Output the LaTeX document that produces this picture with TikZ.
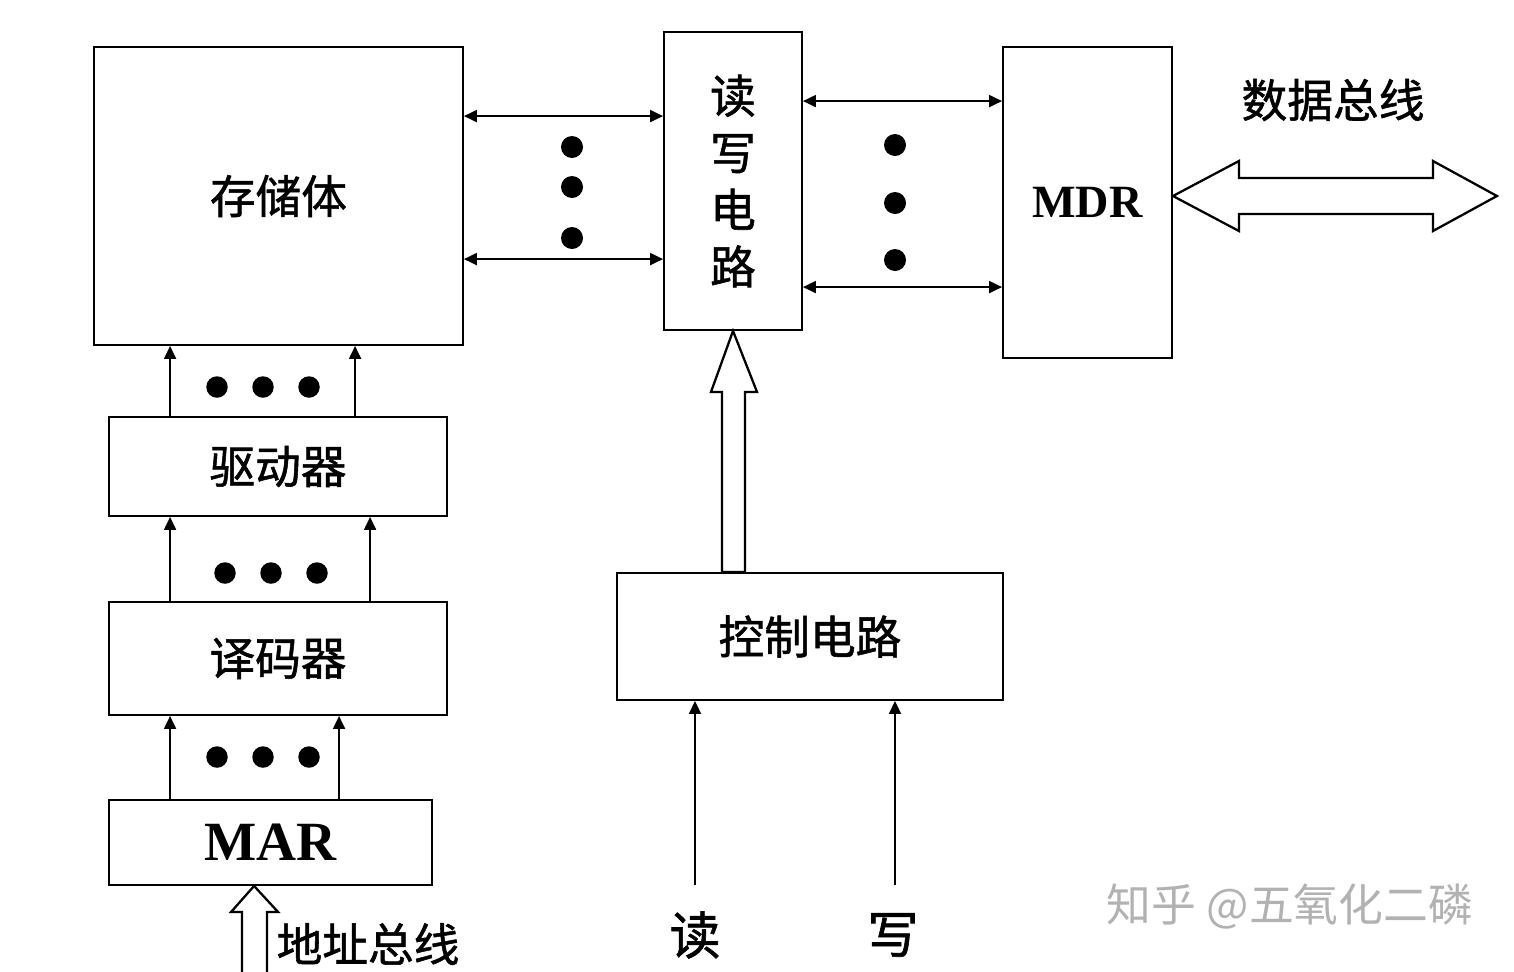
\documentclass[tikz,border=0pt]{standalone}
\usepackage{fontspec}
\setmainfont{Liberation Serif}
\newfontfamily\cjk{Noto Sans CJK SC}
\newfontfamily\cjkb[FakeBold=1.2]{Noto Sans CJK SC}
\usetikzlibrary{arrows.meta,calc}
\begin{document}
\begin{tikzpicture}[x=0.02cm,y=-0.02cm,
  box/.style={draw, line width=1.1pt, inner sep=0pt},
  lbl/.style={font=\cjkb\fontsize{26}{32.4}\selectfont},
  big/.style={font=\cjkb\fontsize{29}{34}\selectfont},
  latin/.style={font=\bfseries\fontsize{26.3}{30}\selectfont},
  arr/.style={line width=1.1pt, -{Triangle[length=0.26cm,width=0.24cm]}},
  dbl/.style={line width=1.1pt, {Triangle[length=0.26cm,width=0.24cm]}-{Triangle[length=0.26cm,width=0.24cm]}},
  hollow/.style={draw, line width=1.3pt, fill=white, line join=miter},
  dot/.style={fill=black}
]
\useasboundingbox (0,0) rectangle (1514,971);

% boxes
\node[box, lbl, minimum width=7.38cm, minimum height=5.96cm] (mem) at (278.5,196) {存储体};
\node[box, lbl, align=center, minimum width=2.76cm, minimum height=5.96cm] (rw) at (733,181) {读\\写\\电\\路};
\node[box, latin, minimum width=3.38cm, minimum height=6.22cm] (mdr) at (1087.5,202.5) {MDR};
\node[box, lbl, minimum width=6.76cm, minimum height=1.98cm] (drv) at (278,466.5) {驱动器};
\node[box, lbl, minimum width=6.76cm, minimum height=2.26cm] (dec) at (278,658.5) {译码器};
\node[box, font=\bfseries\fontsize{31.5}{36}\selectfont, minimum width=6.46cm, minimum height=1.7cm] (mar) at (270.5,842.5) {MAR};
\node[box, lbl, minimum width=7.72cm, minimum height=2.54cm] (ctl) at (810,636.5) {控制电路};

% free labels
\node[lbl, inner sep=0pt] (dbus) at (1333,100) {数据总线};
\node[lbl, inner sep=0pt] (abus) at (368,944) {地址总线};
\node[big, inner sep=0pt] (rd) at (695,935) {读};
\node[big, inner sep=0pt] (wr) at (893,935) {写};
\node[font=\cjk\fontsize{25.5}{30}\selectfont, text=black!30, inner sep=0pt] (wm) at (1290,907) {知乎 @五氧化二磷};

% memory <-> read/write circuit
\coordinate (a1) at ($(mem.north east)+(0,70)$);
\coordinate (a2) at ($(mem.north east)+(0,213)$);
\draw[dbl] (a1) -- (a1 -| rw.west);
\draw[dbl] (a2) -- (a2 -| rw.west);
\fill[dot] (572,147) circle[radius=0.22cm];
\fill[dot] (572,187) circle[radius=0.22cm];
\fill[dot] (572,238) circle[radius=0.22cm];

% read/write circuit <-> MDR
\coordinate (b1) at ($(rw.north east)+(0,70)$);
\coordinate (b2) at ($(rw.north east)+(0,256)$);
\draw[dbl] (b1) -- (b1 -| mdr.west);
\draw[dbl] (b2) -- (b2 -| mdr.west);
\fill[dot] (895,145) circle[radius=0.22cm];
\fill[dot] (895,203) circle[radius=0.22cm];
\fill[dot] (895,260) circle[radius=0.22cm];

% data bus hollow double arrow
\coordinate (L) at ($(mdr.east)+(0,-6.5)$);
\draw[hollow] (L) -- ++(66,-35) -- ++(0,17) -- ++(194,0) -- ++(0,-17) -- ++(64,35)
  -- ++(-64,35) -- ++(0,-17) -- ++(-194,0) -- ++(0,17) -- cycle;

% driver -> memory
\coordinate (c1) at ($(drv.north west)+(62,0)$);
\coordinate (c2) at ($(drv.north west)+(247,0)$);
\draw[arr] (c1) -- (c1 |- mem.south);
\draw[arr] (c2) -- (c2 |- mem.south);
\fill[dot] (217,387) circle[radius=0.215cm];
\fill[dot] (263,387) circle[radius=0.215cm];
\fill[dot] (309,387) circle[radius=0.215cm];

% decoder -> driver
\coordinate (d1) at ($(dec.north west)+(62,0)$);
\coordinate (d2) at ($(dec.north west)+(262,0)$);
\draw[arr] (d1) -- (d1 |- drv.south);
\draw[arr] (d2) -- (d2 |- drv.south);
\fill[dot] (225,573) circle[radius=0.215cm];
\fill[dot] (271,573) circle[radius=0.215cm];
\fill[dot] (317,573) circle[radius=0.215cm];

% MAR -> decoder
\coordinate (e1) at ($(mar.north west)+(62,0)$);
\coordinate (e2) at ($(mar.north west)+(231,0)$);
\draw[arr] (e1) -- (e1 |- dec.south);
\draw[arr] (e2) -- (e2 |- dec.south);
\fill[dot] (217,757) circle[radius=0.215cm];
\fill[dot] (263,757) circle[radius=0.215cm];
\fill[dot] (309,757) circle[radius=0.215cm];

% address bus hollow arrow into MAR
\coordinate (at) at ($(mar.south west)+(146,0)$);
\draw[line width=1.3pt, fill=white, line join=miter]
  ($(at)+(-12,95)$) -- ++(0,-69) -- ++(-11,0) -- (at) -- ++(24,26) -- ++(-11,0) -- ++(0,69);

% control circuit -> read/write circuit hollow arrow
\coordinate (ct) at (rw.south);
\coordinate (cb) at (rw.south |- ctl.north);
\draw[hollow] (ct) -- ++(24,61) -- ++(-12,0) -- ($(cb)+(12,0)$) -- ($(cb)+(-11,0)$)
  -- ($(ct)+(-11,61)$) -- ++(-11,0) -- cycle;

% read / write inputs
\coordinate (rt) at ($(rd)+(0,-50)$);
\coordinate (wt) at ($(wr)+(2,-50)$);
\draw[arr] (rt) -- (rt |- ctl.south);
\draw[arr] (wt) -- (wt |- ctl.south);
\end{tikzpicture}
\end{document}
